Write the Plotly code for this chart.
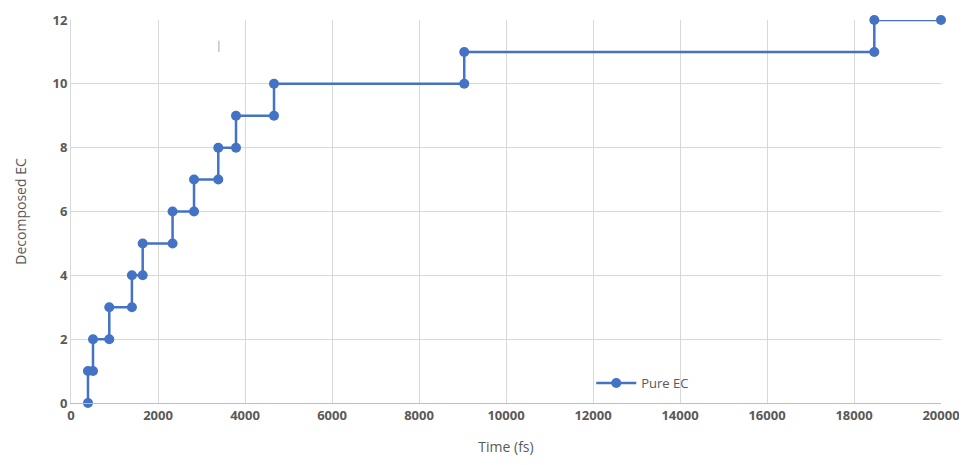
import plotly.graph_objects as go

time_fs = [390, 390, 506, 506, 880, 880, 1400, 1400, 1648, 1648, 2335, 2335,
           2828, 2828, 3386, 3386, 3793, 3793, 4667, 4667, 9040, 9040,
           18467, 18467, 20000]
decomposed_ec = [0, 1, 1, 2, 2, 3, 3, 4, 4, 5, 5, 6,
                 6, 7, 7, 8, 8, 9, 9, 10, 10, 11,
                 11, 12, 12]
series_name = "Pure EC"
x_ticks = list(range(0, 20001, 2000))
x_tick_labels = [str(v) for v in x_ticks]
y_ticks = list(range(0, 13, 2))

color = "#4472C4"
grid = "#d9d9d9"
text_col = "#595959"
font_family = "Open Sans, Liberation Sans, sans-serif"

fig = go.Figure()
fig.add_trace(go.Scatter(
    x=time_fs, y=decomposed_ec, name=series_name,
    mode="lines+markers",
    line=dict(color=color, width=2.5),
    marker=dict(color=color, size=10),
    cliponaxis=False,
))

fig.add_shape(type="line", xref="x", yref="y", x0=3400, x1=3400, y0=11.0, y1=11.35,
              line=dict(color="#a6a6a6", width=1))

fig.update_layout(
    width=967, height=465,
    margin=dict(l=63, r=34, t=12, b=70),
    paper_bgcolor="white", plot_bgcolor="white",
    font=dict(family=font_family, color=text_col, size=13),
    showlegend=True,
    legend=dict(x=0.598, y=0.052, xanchor="left", yanchor="middle",
                bgcolor="rgba(0,0,0,0)", font=dict(size=13, color=text_col),
                itemwidth=40),
    xaxis=dict(
        range=[0, 20000], tickvals=x_ticks, ticktext=x_tick_labels,
        showgrid=True, gridcolor=grid, gridwidth=1, automargin=False,
        zeroline=False, showline=True, linecolor="#bfbfbf", linewidth=1,
        tickfont=dict(size=13, color=text_col, weight="bold"),
        ticks="", ticklen=0,
        title=dict(text="Time (fs)", font=dict(size=14, color=text_col), standoff=19),
    ),
    yaxis=dict(
        range=[0, 12], tickvals=y_ticks, showgrid=True, gridcolor=grid, gridwidth=1,
        automargin=False,
        zeroline=False, showline=True, linecolor=grid, linewidth=1,
        tickfont=dict(size=13, color=text_col, weight="bold"),
        ticks="", ticklen=0,
        title=dict(text="Decomposed EC", font=dict(size=14, color=text_col), standoff=22),
    ),
)

fig.write_html("out.html")
